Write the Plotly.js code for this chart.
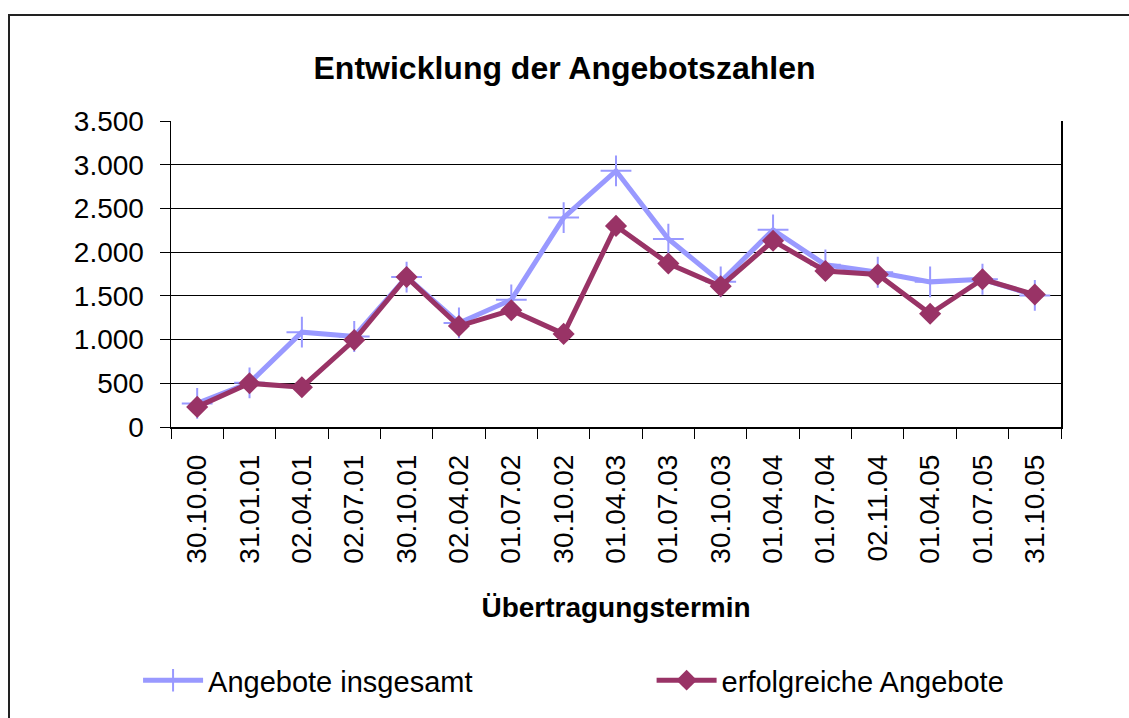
<!DOCTYPE html>
<html>
<head>
<meta charset="utf-8">
<script src="https://cdn.plot.ly/plotly-3.0.1.min.js"></script>
<style>
html,body{margin:0;padding:0;overflow:hidden;background:#fff;}
#frame{position:absolute;left:8px;top:14px;width:1140px;height:740px;border:2px solid #222;box-sizing:border-box;pointer-events:none;}
#chart{position:absolute;left:0;top:0;width:1129px;height:718px;}
</style>
</head>
<body>
<div id="chart"></div>
<div id="frame"></div>
<script>
const categories = ["30.10.00","31.01.01","02.04.01","02.07.01","30.10.01","02.04.02","01.07.02","30.10.02","01.04.03","01.07.03","30.10.03","01.04.04","01.07.04","02.11.04","01.04.05","01.07.05","31.10.05"];
const angeboteInsgesamt = [270, 505, 1085, 1035, 1715, 1190, 1455, 2395, 2930, 2150, 1660, 2255, 1855, 1770, 1660, 1690, 1505];
const erfolgreicheAngebote = [230, 500, 455, 995, 1715, 1155, 1335, 1065, 2300, 1870, 1610, 2130, 1785, 1745, 1295, 1690, 1515];
const yTicks = [0, 500, 1000, 1500, 2000, 2500, 3000, 3500];

const traces = [
  {
    x: categories, y: angeboteInsgesamt, name: "Angebote insgesamt",
    type: "scatter", mode: "lines+markers", legend: "legend",
    line: {color: "#9999FF", width: 5},
    marker: {symbol: "cross-thin", size: 22, line: {color: "#9999FF", width: 2}, color: "#9999FF"}
  },
  {
    x: categories, y: erfolgreicheAngebote, name: "erfolgreiche Angebote",
    type: "scatter", mode: "lines+markers", legend: "legend2",
    line: {color: "#993366", width: 5},
    marker: {symbol: "diamond", size: 17, color: "#993366"}
  }
];

const legendCommon = {
  orientation: "h", xanchor: "left", yanchor: "middle",
  font: {size: 29, color: "#000"},
  itemwidth: 60,
  bgcolor: "rgba(0,0,0,0)"
};

const layout = {
  width: 1129, height: 718,
  margin: {l: 171, r: 68, t: 121, b: 287},
  paper_bgcolor: "#fff", plot_bgcolor: "#fff",
  separators: ",.",
  font: {family: "Liberation Sans, Arial, sans-serif", color: "#000"},
  title: {
    text: "<b>Entwicklung der Angebotszahlen</b>",
    font: {size: 32, color: "#000"},
    x: 0.5, xref: "container", y: 1 - 68/718, yref: "container", yanchor: "middle"
  },
  xaxis: {
    type: "category",
    tickangle: -90,
    tickfont: {size: 28},
    showline: true, linecolor: "#000", linewidth: 1.5,
    ticks: "outside", ticklen: 10, tickcolor: "#000", tickson: "boundaries",
    ticklabelstandoff: 15,
    showgrid: false, zeroline: false,
    range: [-0.5, categories.length - 0.5],
    title: {text: "<b>Übertragungstermin</b>", font: {size: 28}, standoff: 34}
  },
  yaxis: {
    range: [0, 3500],
    tickvals: yTicks, tickformat: ",d",
    tickfont: {size: 28},
    showline: true, linecolor: "#000", linewidth: 1.5, mirror: true,
    ticks: "outside", ticklen: 10, tickcolor: "#000",
    ticklabelstandoff: 10,
    showgrid: true, gridcolor: "#000", gridwidth: 1,
    zeroline: false
  },
  showlegend: true,
  legend: Object.assign({}, legendCommon, {x: -0.037, y: -0.828}),
  legend2: Object.assign({}, legendCommon, {x: 0.54, y: -0.828}),
  hovermode: false
};

Plotly.newPlot("chart", traces, layout, {staticPlot: true, displayModeBar: false});
</script>
</body>
</html>
